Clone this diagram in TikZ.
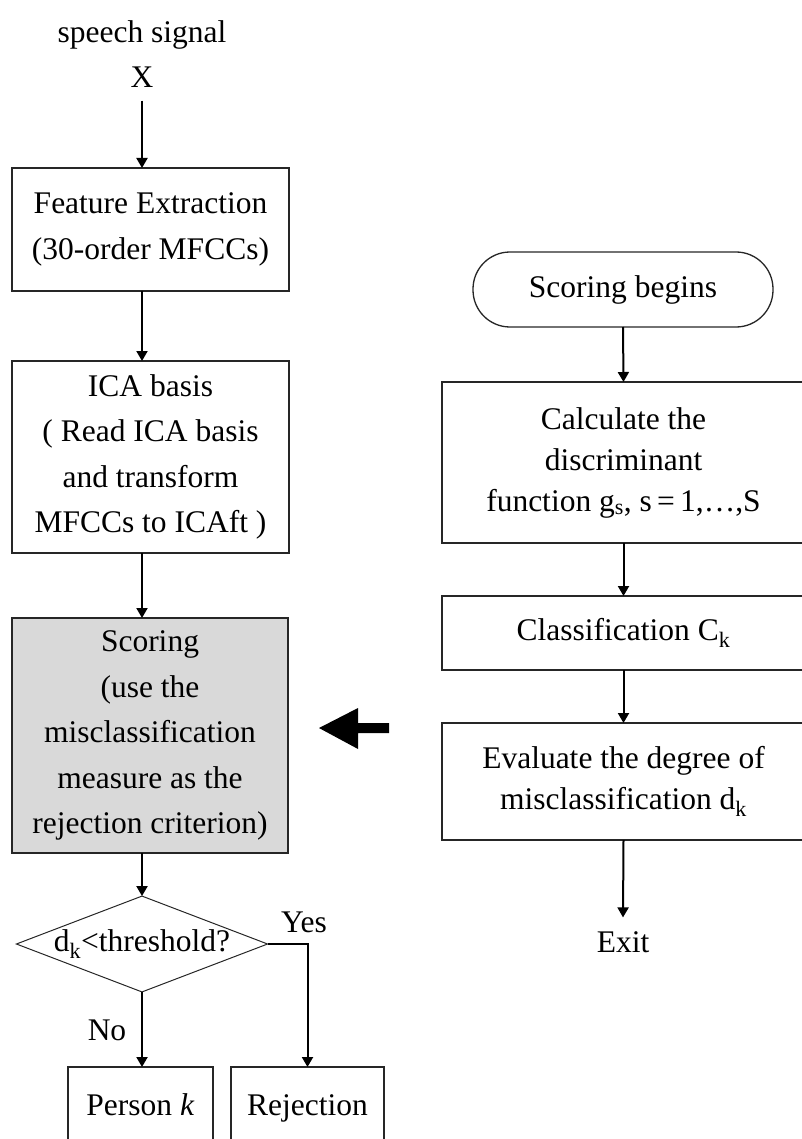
\documentclass[tikz,border=0pt]{standalone}
\usepackage{fontspec}
\setmainfont{Liberation Serif}
\usetikzlibrary{arrows.meta,shapes.geometric}
\begin{document}
\begin{tikzpicture}[x=1pt,y=-1pt,
  every node/.style={inner sep=0pt,outer sep=0pt},
  lfont/.style={font=\fontsize{31.5}{45.5}\selectfont},
  rfont/.style={font=\fontsize{31.5}{41}\selectfont},
  lbox/.style={draw=black!85,line width=1.3pt,rectangle,lfont,align=center},
  rbox/.style={draw=black!85,line width=1.3pt,rectangle,rfont,align=center},
  arr/.style={line width=2pt,-{Triangle[length=10pt,width=11pt]}},
  endbox/.style={lbox,minimum height=82,text height=22pt,text depth=7pt}
]
\useasboundingbox (0,0) rectangle (802,1139);
\coordinate (lx) at (142,0);

% left column
\node[lfont,align=center] (sig) at (142,54) {speech signal\\X};
\node[lbox,minimum width=277,minimum height=123] (fe) at (150.5,229.5) {Feature Extraction\\(30-order MFCCs)};
\node[lbox,minimum width=277,minimum height=192] (ica) at (150.5,457) {ICA basis\\( Read ICA basis\\and transform\\MFCCs to ICAft )};
\node[lbox,fill=black!15,minimum width=276,minimum height=235] (score) at (150,735.5) {Scoring\\(use the\\misclassification\\measure as the\\rejection criterion)};
\node[diamond,draw=black!85,line width=1pt,lfont,shape aspect=2.62,minimum width=249,minimum height=95] (dia) at (142,944) {d\textsubscript{k}<threshold?};
\node[endbox,minimum width=145] (pk) at (140.5,1108) {Person \textit{k}};
\node[endbox,minimum width=153] (rej) at (307.5,1108) {Rejection};
\node[lfont] (no) at (107,1030) {No};
\node[lfont] (yes) at (304,922) {Yes};

\draw[arr] ([yshift=-13pt]sig.south) -- (sig.south |- fe.north);
\draw[arr] (fe.south -| lx) -- (ica.north -| lx);
\draw[arr] (ica.south -| lx) -- (score.north -| lx);
\draw[arr] (score.south -| lx) -- (dia.north);
\draw[arr] (dia.south) -- (dia.south |- pk.north);
\draw[arr] (dia.east) -| (rej.north);

% big arrow
\fill (319,728) -- (358,708) -- (358,723) -- (389,723) -- (389,733) -- (358,733) -- (358,749) -- cycle;

% right column
\node[draw=black!85,line width=1.3pt,rounded corners=37pt,rfont,minimum width=300,minimum height=75] (term) at (623,289.5) {Scoring begins};
\node[rbox,minimum width=363,minimum height=161] (calc) at (623.5,462.5) {Calculate the\\discriminant\\function g\textsubscript{s}, s\,=\,1,…,S};
\node[rbox,minimum width=363,minimum height=74] (cls) at (623.5,633) {Classification C\textsubscript{k}};
\node[rbox,minimum width=363,minimum height=117] (eval) at (623.5,781.5) {Evaluate the degree of\\misclassification d\textsubscript{k}};
\node[rfont] (exit) at (623,942) {Exit};

\draw[arr] (term.south) -- (calc.north);
\draw[arr] (calc.south) -- (cls.north);
\draw[arr] (cls.south) -- (eval.north);
\draw[arr] (eval.south) -- ([yshift=14pt]exit.north);
\end{tikzpicture}
\end{document}
